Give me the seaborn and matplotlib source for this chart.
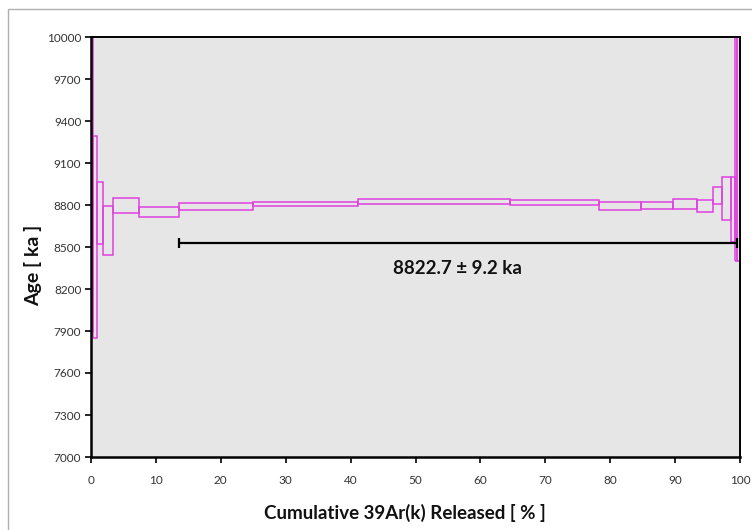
import matplotlib
matplotlib.use("Agg")
import matplotlib.pyplot as plt
import seaborn as sns
import numpy as np
from matplotlib.patches import Rectangle

# Data: cumulative 39Ar(k) released (%) at step ends, ages (ka), 1-sigma errors (ka)
cum_end = [0.25, 0.95, 1.8, 3.4, 7.4, 13.6, 24.9, 41.2, 64.6, 78.2,
           84.8, 89.7, 93.3, 95.9, 97.3, 98.6, 99.2, 99.6, 100.0]
ages = [9500, 8570, 8742, 8615, 8797, 8748, 8788, 8807, 8823, 8818,
        8794, 8797, 8806, 8794, 8866, 8845, 8770, 9700, 9500]
errors = [1600, 720, 221, 175, 52, 36, 24, 17, 18, 18,
          30, 28, 37, 42, 60, 152, 232, 1300, 1100]

plateau_start = 13.6
plateau_end = 99.6
plateau_y = 8530
plateau_label = "8822.7 ± 9.2 ka"

x_ticks = list(range(0, 101, 10))
y_ticks = list(range(7000, 10001, 300))

sns.set_theme(style="white")
plt.rcParams['font.family'] = ['Lato', 'DejaVu Sans']

fig = plt.figure(figsize=(7.52, 5.30), dpi=100)
fig.patch.set_facecolor('white')
fig.patches.append(Rectangle((8/752, -0.01), 1.0, (530-9)/530 + 0.01,
                             transform=fig.transFigure, fill=False,
                             edgecolor='#b0b0b0', linewidth=1.0))
ax = fig.add_axes([91/752, 73/530, 649/752, 420/530])
ax.set_facecolor('#e6e6e6')

lefts = [0.0] + cum_end[:-1]
widths = [e - l for e, l in zip(cum_end, lefts)]
bottoms = [a - e for a, e in zip(ages, errors)]
heights = [2 * e for e in errors]
ax.bar(lefts, heights, width=widths, bottom=bottoms, align='edge',
       fill=False, edgecolor='#e040e0', linewidth=1.1, clip_on=True)

# Plateau bar
ax.hlines(plateau_y, plateau_start, plateau_end, color='black', linewidth=1.6)
ax.vlines([plateau_start, plateau_end], plateau_y - 35, plateau_y + 35,
          color='black', linewidth=1.6)
ax.text(56.5, plateau_y - 180, plateau_label,
        ha='center', va='center', fontsize=13.5, fontweight='bold', color='#111111')

ax.set_xlim(0, 100)
ax.set_ylim(7000, 10000)
ax.set_xticks(x_ticks)
ax.set_yticks(y_ticks)
ax.tick_params(axis='both', labelsize=8.5, colors='black', direction='out',
               length=4, width=1.2, left=True, bottom=True)
ax.tick_params(axis='x', pad=9)
ax.tick_params(axis='y', pad=3)
for lbl in ax.get_xticklabels() + ax.get_yticklabels():
    lbl.set_color('#333333')
for s in ['left', 'bottom']:
    ax.spines[s].set_color('black')
    ax.spines[s].set_linewidth(1.8)
for s in ['top', 'right']:
    ax.spines[s].set_color('black')
    ax.spines[s].set_linewidth(1.4)

ax.set_xlabel("Cumulative 39Ar(k) Released [ % ]", fontsize=13.5,
              fontweight='bold', color='#111111')
ax.set_ylabel("Age [ ka ]", fontsize=14, fontweight='bold', color='#111111')
ax.xaxis.set_label_coords(0.484, -0.112)
ax.yaxis.set_label_coords(-0.076, 0.457)

fig.savefig("out.png", dpi=100)
